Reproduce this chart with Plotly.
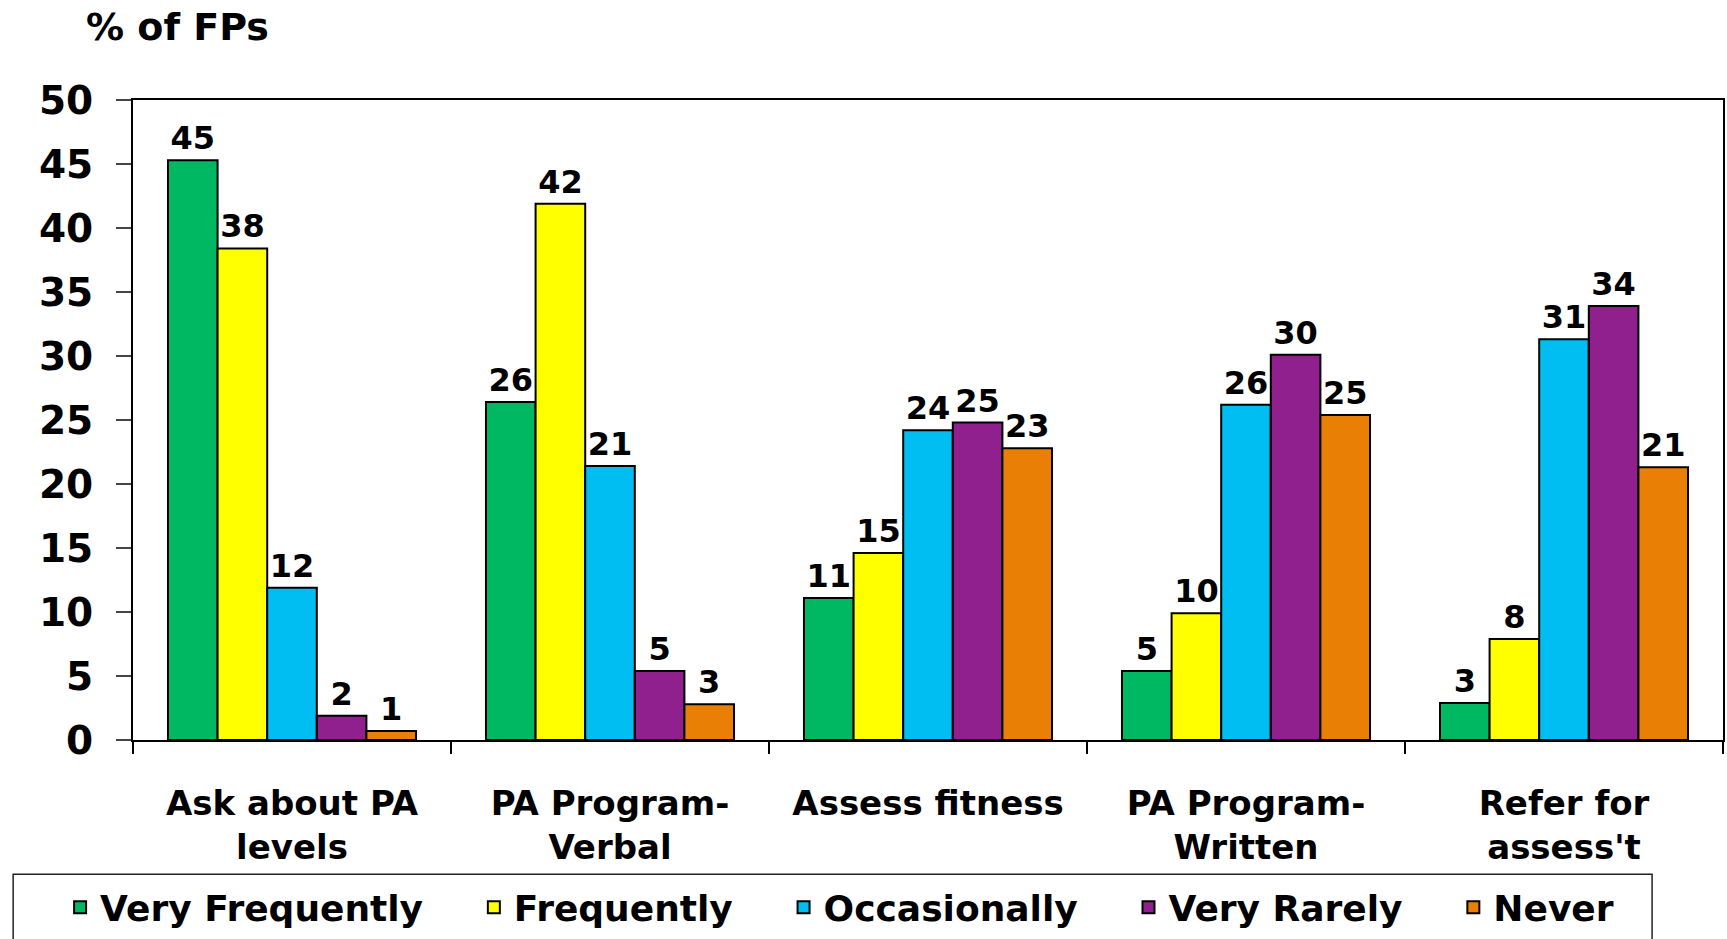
import plotly.graph_objects as go

categories = ["Ask about PA<br>levels", "PA Program-<br>Verbal", "Assess fitness",
              "PA Program-<br>Written", "Refer for<br>assess't"]
series_names = ["Very Frequently", "Frequently", "Occasionally", "Very Rarely", "Never"]
very_frequently = [45.3, 26.4, 11.1, 5.4, 2.9]
frequently = [38.4, 41.9, 14.6, 9.9, 7.9]
occasionally = [11.9, 21.4, 24.2, 26.2, 31.3]
very_rarely = [1.9, 5.4, 24.8, 30.1, 33.9]
never = [0.7, 2.8, 22.8, 25.4, 21.3]
colors = ["#00B862", "#FFFF00", "#00BEF2", "#91208F", "#E98005"]
y_ticks = [0, 5, 10, 15, 20, 25, 30, 35, 40, 45, 50]

W, H = 1727, 939
ML, MR, MT, MB = 133, 2, 100, 196
PW, PH = W - ML - MR, H - MT - MB
FONT = "DejaVu Sans"
NB = "\u00a0"

fig = go.Figure()
all_vals = [very_frequently, frequently, occasionally, very_rarely, never]
for i, (name, vals, col) in enumerate(zip(series_names, all_vals, colors)):
    label = "<b>" + name + "</b>" + (NB * 4 if i < len(series_names) - 1 else "")
    fig.add_trace(go.Bar(
        x=categories, y=vals, name=label,
        marker=dict(color=col, line=dict(color="#000000", width=2)),
        texttemplate="<b>%{y:.0f}</b>", textposition="outside",
        textfont=dict(family=FONT, size=32, color="#000000"),
        cliponaxis=False,
    ))

def px_x(p):
    return (p - ML) / PW

def px_y(p):
    return (MT + PH - p) / PH

fig.update_layout(
    width=W, height=H,
    margin=dict(l=ML, r=MR, t=MT, b=MB, pad=0),
    paper_bgcolor="white", plot_bgcolor="white",
    barmode="group", bargap=0.22, bargroupgap=0,
    font=dict(family=FONT, color="#000000"),
    title=dict(text="<b>% of FPs</b>", xref="container", yref="container",
               x=86 / W, xanchor="left", y=1 - 27 / H, yanchor="middle", pad=dict(t=0, b=0, l=0, r=0),
               font=dict(family=FONT, size=38, color="#000000")),
    showlegend=True,
    legend=dict(orientation="h", x=px_x(60), xanchor="left",
                y=px_y(881), yanchor="top",
                borderwidth=0, bgcolor="rgba(0,0,0,0)",
                font=dict(family=FONT, size=36, color="#000000"),
                traceorder="normal", itemwidth=30),
    shapes=[dict(type="rect", xref="paper", yref="paper",
                 x0=px_x(13), x1=px_x(1654), y0=px_y(878), y1=px_y(960),
                 line=dict(color="#222222", width=1.5), fillcolor="rgba(0,0,0,0)",
                 layer="below")],
    xaxis=dict(showline=True, linecolor="#000000", linewidth=2, mirror=True,
               ticks="outside", tickson="boundaries", ticklen=12, tickcolor="#000000",
               tickwidth=1.5, ticklabelstandoff=32,
               tickvals=categories, ticktext=["<b>" + c + "</b>" for c in categories],
               tickfont=dict(family=FONT, size=34, color="#000000"),
               showgrid=False, zeroline=False),
    yaxis=dict(range=[0, 50], tickvals=y_ticks, ticktext=["<b>" + str(v) + "</b>" for v in y_ticks],
               showline=True, linecolor="#000000", linewidth=2, mirror=True,
               ticks="outside", ticklen=15, tickcolor="#444444", tickwidth=1.5,
               ticklabelstandoff=15,
               tickfont=dict(family=FONT, size=39, color="#000000"),
               showgrid=False, zeroline=False),
)

fig.write_html("out.html")
